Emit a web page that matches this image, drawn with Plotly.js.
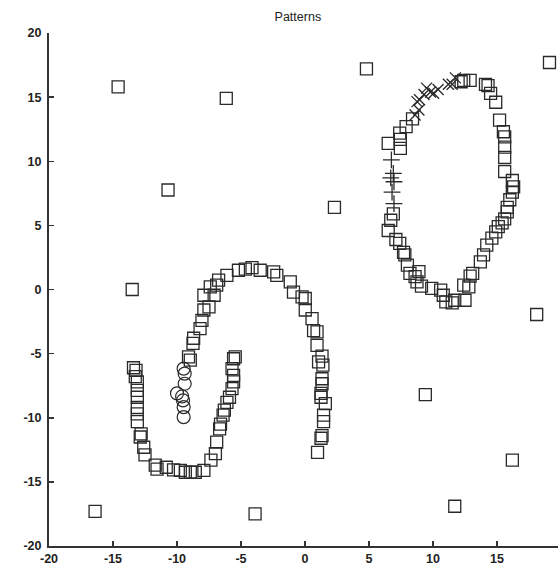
<!DOCTYPE html>
<html>
<head>
<meta charset="utf-8">
<script src="https://cdn.plot.ly/plotly-3.0.1.min.js"></script>
<style>
html,body{margin:0;padding:0;overflow:hidden;background:#fff;}
#chart{width:562px;height:567px;}
</style>
</head>
<body>
<div id="chart"></div>
<script>
// Square-marker points (noise outliers, ring, spiral)
const squareX = [
  -14.6, -6.15, -10.7, -13.5, -16.4, -3.9, 4.8, 19.1, 2.3, 18.1, 9.4, 16.2, 11.7,
  12.2, 12.4, 12.9, 14.1, 14.3, 14.5, 14.9, 15.2, 15.5, 15.6, 15.6, 15.6, 15.6, 16.2, 16.3, 16.2, 16.0, 15.8, 15.8,
  15.6, 15.4, 15.1, 14.9, 14.6, 14.2, 13.95, 13.7, 13.1, 12.9, 12.8, 12.4, 12.5, 11.7, 11.5, 11.0, 10.8, 10.6,
  9.9, 9.1, 8.75, 8.9, 8.6, 8.2, 8.0, 7.8, 7.7, 7.4, 7.1, 6.5, 6.7, 6.9,
  6.5, 7.45, 7.45, 7.4, 7.9, 8.4,
  -9.1, -8.96, -8.75, -8.7, -8.2, -8.05, -7.9, -7.5, -7.9, -7.1, -7.4, -6.9, -6.75, -6.1, -5.2, -4.66, -4.14, -3.5,
  -2.45, -2.2, -1.15, -0.9, -0.23, 0.02, 0.02, 0.55, 0.67, 0.94, 0.94,
  1.33, 1.06, 1.4, 1.33, 1.33, 1.25, 1.25, 1.59, 1.45, 1.45, 1.33, 1.25, 0.98,
  -5.58, -5.45, -5.7, -5.58, -5.58, -5.7, -5.9, -6.1, -6.3, -6.4, -6.6, -6.67, -6.9, -7.0, -7.35, -7.9,
  -8.57, -8.96, -9.35, -9.74, -10.27, -10.84, -11.56, -11.7, -12.5, -12.6, -12.87, -12.8,
  -13.1, -13.1, -13.1, -13.1, -13.1, -13.1, -13.26, -13.2, -13.4
];
const squareY = [
  15.8, 14.9, 7.76, 0.0, -17.3, -17.5, 17.2, 17.7, 6.4, -1.95, -8.2, -13.3, -16.9,
  16.2, 16.3, 16.3, 16.0, 15.9, 15.3, 14.6, 13.2, 12.3, 11.9, 11.1, 10.3, 9.2, 8.5, 8.0, 7.6, 7.0, 6.4, 6.06,
  5.5, 5.2, 4.9, 4.5, 4.0, 3.46, 2.7, 2.16, 1.25, 1.04, 0.2, 0.34, -0.84, -0.84, -1.05, -0.97, -0.45, -0.05,
  0.08, 0.26, 0.6, 1.4, 1.0, 1.25, 1.9, 2.7, 2.9, 3.6, 3.9, 4.6, 5.4, 5.9,
  11.4, 11.7, 11.0, 12.2, 12.7, 13.3,
  -5.26, -5.5, -4.2, -3.8, -3.05, -2.4, -1.6, -1.36, -0.45, -0.45, 0.2, 0.34, 0.73, 1.1, 1.5, 1.59, 1.7, 1.5,
  1.38, 1.1, 0.6, -0.2, -0.58, -0.7, -1.6, -2.27, -3.2, -3.3, -4.35,
  -5.2, -5.65, -5.9, -6.96, -7.35, -8.1, -8.4, -8.9, -9.8, -10.3, -11.4, -11.6, -12.7,
  -5.4, -5.26, -6.17, -6.7, -7.2, -7.73, -8.4, -8.8, -9.4, -9.8, -10.5, -10.86, -11.9, -12.8, -13.3, -14.1,
  -14.25, -14.25, -14.25, -14.1, -14.06, -13.86, -14.0, -13.7, -12.9, -12.3, -11.5, -11.25,
  -10.3, -9.7, -9.2, -8.4, -7.87, -7.2, -6.8, -6.3, -6.1
];
// Circle-marker points
const circleX = [-9.48, -9.4, -9.4, -10.0, -9.6, -9.53, -9.48, -9.48];
const circleY = [-6.17, -6.56, -7.35, -8.1, -8.34, -8.65, -9.17, -9.95];
// X-marker points
const crossX = [8.6, 8.9, 8.75, 8.95, 9.5, 9.8, 10.05, 10.4, 11.2, 11.5, 11.75, 9.3];
const crossY = [13.6, 14.0, 14.65, 14.8, 15.7, 15.4, 15.3, 15.6, 16.0, 16.0, 16.5, 15.2];
// Plus-marker points
const plusX = [6.75, 6.9, 6.7, 6.95, 6.8, 6.95];
const plusY = [10.1, 9.06, 8.7, 8.4, 7.6, 6.7];
const tickValues = [-20, -15, -10, -5, 0, 5, 10, 15, 20];

const ink = '#2a2a2a';
const traces = [
  {x: squareX, y: squareY, mode: 'markers', type: 'scatter',
   marker: {symbol: 'square-open', size: 12, color: ink, line: {width: 1.3, color: ink}}},
  {x: circleX, y: circleY, mode: 'markers', type: 'scatter',
   marker: {symbol: 'circle-open', size: 13, color: ink, line: {width: 1.2, color: ink}}},
  {x: crossX, y: crossY, mode: 'markers', type: 'scatter',
   marker: {symbol: 'x-thin-open', size: 11, color: ink, line: {width: 1.3, color: ink}}},
  {x: plusX, y: plusY, mode: 'markers', type: 'scatter',
   marker: {symbol: 'cross-thin-open', size: 12, color: ink, line: {width: 1.3, color: ink}}}
];

const tickFont = {family: 'Liberation Sans, Arial, sans-serif', size: 12.5, color: '#222', weight: 'bold'};
const axisCommon = {
  range: [-20, 20], tickvals: tickValues, ticktext: tickValues.map(String),
  showgrid: false, zeroline: false, showline: true, linecolor: '#333', linewidth: 2,
  ticks: 'inside', ticklen: 5, tickwidth: 1.5, tickcolor: '#333', tickfont: tickFont, mirror: false
};
const layout = {
  width: 562, height: 567,
  margin: {l: 49, r: 1, t: 33, b: 21},
  paper_bgcolor: '#fff', plot_bgcolor: '#fff',
  showlegend: false,
  title: {text: 'Patterns', font: {family: 'Liberation Sans, Arial, sans-serif', size: 12.5, color: '#222'},
          x: 0.530, xanchor: 'center', y: 0.970, yanchor: 'middle'},
  xaxis: Object.assign({}, axisCommon, {ticklabelstandoff: 0}),
  yaxis: Object.assign({}, axisCommon, {ticklabelstandoff: 3})
};
Plotly.newPlot('chart', traces, layout, {staticPlot: true, displayModeBar: false});
</script>
</body>
</html>
